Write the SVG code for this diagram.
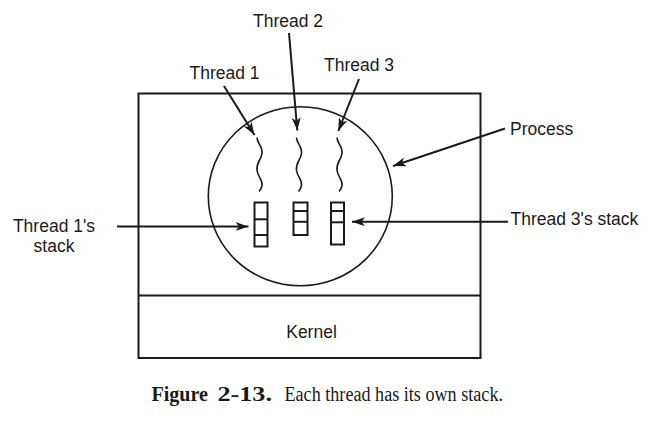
<svg xmlns="http://www.w3.org/2000/svg" xmlns:xlink="http://www.w3.org/1999/xlink" width="654" height="425" viewBox="0 0 654 425">
  <style>
    .line { fill: none; stroke: #1a1a1a; stroke-width: 2; }
    .thin { fill: none; stroke: #1a1a1a; stroke-width: 1.6; }
    .arrow { fill: none; stroke: #1a1a1a; stroke-width: 2; marker-end: url(#ah); }
    .lbl { font-family: "Liberation Sans", Arial, sans-serif; font-size: 17.5px; fill: #1a1a1a; }
    .cap { font-family: "Liberation Serif", "Times New Roman", serif; font-size: 20px; fill: #1a1a1a; }
    .capb { font-family: "Liberation Serif", "Times New Roman", serif; font-size: 20px; font-weight: bold; fill: #1a1a1a; }
  </style>
  <defs>
    <marker id="ah" markerUnits="userSpaceOnUse" markerWidth="14" markerHeight="10" refX="13" refY="5" orient="auto">
      <path d="M0,0.5 L13,5 L0,9.5 L3.5,5 Z" fill="#1a1a1a"/>
    </marker>
    <path id="squig" d="M0,0 c0,6 6,9 5,16 c-1,7 -6,9 -5,17 c1,7 6,9 5,15 c-0.5,3 -2,5 -3,6" class="thin"/>
  </defs>
  <rect width="654" height="425" fill="#ffffff"/>

  <g id="process-box">
    <rect x="138.5" y="93.5" width="342" height="264.5" class="line"/>
  </g>
  <g id="kernel">
    <line x1="138.5" y1="295.5" x2="480.5" y2="295.5" class="line"/>
    <text x="311.5" y="338" text-anchor="middle" class="lbl">Kernel</text>
  </g>
  <g id="process-circle">
    <ellipse cx="300.3" cy="196.3" rx="92" ry="89.5" class="thin"/>
  </g>
  <g id="thread1">
    <use xlink:href="#squig" x="257" y="137.5"/>
    <text x="189.5" y="78.5" class="lbl">Thread 1</text>
  </g>
  <g id="thread2">
    <use xlink:href="#squig" x="296.5" y="137.5"/>
    <text x="253" y="27" class="lbl">Thread 2</text>
  </g>
  <g id="thread3">
    <use xlink:href="#squig" x="337" y="137.5"/>
    <text x="324" y="71" class="lbl">Thread 3</text>
  </g>
  <g id="stack1">
    <rect x="254.5" y="202.5" width="13" height="44" class="line"/>
    <line x1="254.5" y1="219.3" x2="267.5" y2="219.3" class="line"/>
    <line x1="254.5" y1="235" x2="267.5" y2="235" class="line"/>
  </g>
  <g id="stack2">
    <rect x="293.5" y="202.5" width="14" height="32.5" class="line"/>
    <line x1="293.5" y1="211" x2="307.5" y2="211" class="line"/>
    <line x1="293.5" y1="221.8" x2="307.5" y2="221.8" class="line"/>
  </g>
  <g id="stack3">
    <rect x="331" y="202.5" width="13" height="42" class="line"/>
    <line x1="331" y1="211" x2="344" y2="211" class="line"/>
    <line x1="331" y1="222.3" x2="344" y2="222.3" class="line"/>
  </g>
  <g id="process-label">
    <text x="510" y="135" class="lbl">Process</text>
  </g>
  <g id="thread3-stack-label">
    <text x="510.5" y="225" class="lbl">Thread 3's stack</text>
  </g>
  <g id="thread1-stack-label">
    <text x="54" y="232" text-anchor="middle" class="lbl">Thread 1's</text>
    <text x="54" y="252" text-anchor="middle" class="lbl">stack</text>
  </g>

  <g id="connectors">
    <line x1="224" y1="86" x2="254.5" y2="135" class="arrow"/>
    <line x1="289" y1="33" x2="297.3" y2="130.5" class="arrow"/>
    <line x1="359" y1="79" x2="338.3" y2="131" class="arrow"/>
    <line x1="505" y1="128.5" x2="393" y2="166" class="arrow"/>
    <line x1="508" y1="221.7" x2="352" y2="221.7" class="arrow"/>
    <line x1="117" y1="226.5" x2="248.5" y2="226.5" class="arrow"/>
  </g>

  <g id="caption">
    <text x="151.5" y="400.5" class="capb" textLength="56.5" lengthAdjust="spacingAndGlyphs">Figure</text>
    <text x="217.5" y="400.5" class="capb" textLength="54.5" lengthAdjust="spacingAndGlyphs">2-13.</text>
    <text x="284.5" y="400.5" class="cap" textLength="218.5" lengthAdjust="spacingAndGlyphs">Each thread has its own stack.</text>
  </g>
</svg>
